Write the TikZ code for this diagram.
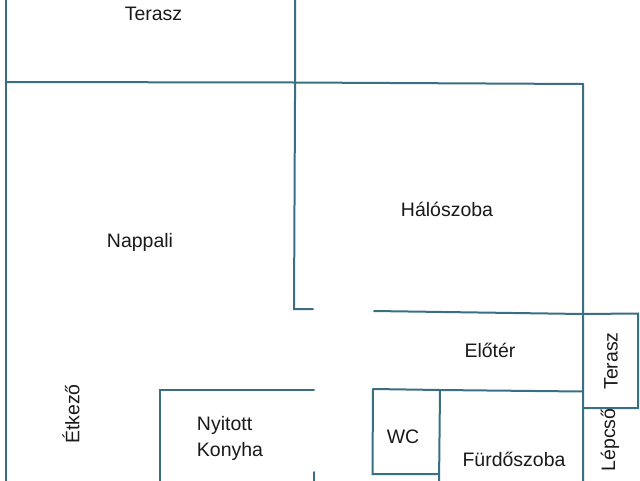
\documentclass[tikz,border=0pt]{standalone}
\usepackage{fontspec}
\setmainfont{Liberation Sans}
\definecolor{wallc}{HTML}{3A6F82}
\definecolor{textc}{HTML}{1A1A1A}
\tikzset{
  wall/.style={draw=wallc,line width=2pt,line cap=round,line join=miter},
  room/.style={text=textc,font=\fontsize{19.5}{25.5}\selectfont,inner sep=0pt,align=left},
}
\begin{document}
\begin{tikzpicture}[x=1pt,y=-1pt]
\useasboundingbox (0,0) rectangle (640,480);
\fill[white] (0,0) rectangle (640,480);
\begin{scope}
\clip (0,0) rectangle (640,480);
\draw[wall] (6,-5) -- (6,485);
\draw[wall] (295,-5) -- (295,100) -- (294,309) -- (313,309);
\draw[wall] (6,82) -- (295,82.5) -- (583,84) -- (583,485);
\draw[wall] (374,311) -- (583,314) -- (638,313.5) -- (638,408) -- (583,408);
\draw[wall] (314,390) -- (160,390) -- (160,485);
\draw[wall] (373,389) -- (440,390) -- (583,391.5);
\draw[wall] (373,389) -- (372.5,474) -- (439,474);
\draw[wall] (440,390) -- (439,485);
\draw[wall] (314,472) -- (314,485);
\end{scope}
\node[room] (terasza) at (153.5,14) {Terasz};
\node[room] (halo) at (447,209.5) {Hálószoba};
\node[room] (nappali) at (140,242) {Nappali};
\node[room] (eloter) at (490,350) {Előtér};
\node[room,rotate=90] (terasb) at (611,361) {Terasz};
\node[room,rotate=90] (lepcso) at (610,440) {Lépcső};
\node[room,rotate=90] (etkezo) at (71,414) {Étkező};
\node[room] (konyha) at (230,438.5) {Nyitott\\Konyha};
\node[room] (wc) at (403,437) {WC};
\node[room] (furdo) at (514,459) {Fürdőszoba};
\end{tikzpicture}
\end{document}
